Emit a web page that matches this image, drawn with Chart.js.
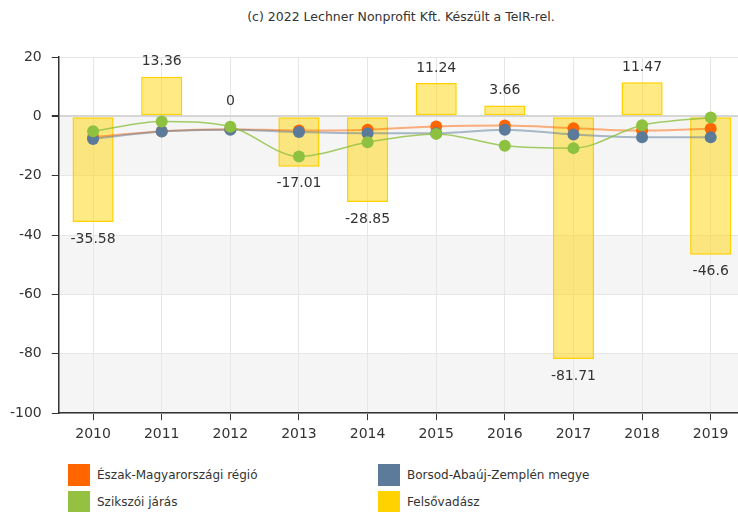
<!DOCTYPE html>
<html>
<head>
<meta charset="utf-8">
<script src="https://cdn.jsdelivr.net/npm/chart.js@4.4.1/dist/chart.umd.min.js"></script>
<style>
  html, body { margin: 0; padding: 0; background: #fff; overflow: hidden; }
  #wrap { position: relative; width: 738px; height: 512px; overflow: hidden; }
  #title { position: absolute; top: 9px; left: 0; width: 802px; text-align: center;
           font: 12.5px 'DejaVu Sans', sans-serif; color: #333; }
  #chartBox { position: absolute; top: 0; left: 0; width: 751px; height: 451px; }
  .leg { position: absolute; font: 12px 'DejaVu Sans', sans-serif; color: #333; line-height: 22px; }
  .leg span { display: inline-block; width: 22px; height: 22px; vertical-align: top; margin-right: 7px; }
</style>
</head>
<body>
<div id="wrap">
  <div id="title">(c) 2022 Lechner Nonprofit Kft. Készült a TeIR-rel.</div>
  <div id="chartBox"><canvas id="chart"></canvas></div>
  <div class="leg" style="left:68px; top:464px;"><span style="background:#ff6600"></span>Észak-Magyarországi régió</div>
  <div class="leg" style="left:378px; top:464px;"><span style="background:#5c7a99"></span>Borsod-Abaúj-Zemplén megye</div>
  <div class="leg" style="left:68px; top:491px;"><span style="background:#95c143"></span>Szikszói járás</div>
  <div class="leg" style="left:378px; top:491px;"><span style="background:#ffd200"></span>Felsővadász</div>
</div>
<script>
// adatok
const evek = ['2010', '2011', '2012', '2013', '2014', '2015', '2016', '2017', '2018', '2019'];
const felsovadasz = [-35.58, 13.36, 0, -17.01, -28.85, 11.24, 3.66, -81.71, 11.47, -46.6];
const eszakMagyarorszag = [-7, -5, -4.3, -4.8, -4.5, -3.4, -3.1, -4.0, -4.8, -4.2];
const borsod = [-7.6, -5.1, -4.5, -5.3, -5.7, -5.7, -4.5, -6.1, -7.0, -7.0];
const szikszoi = [-5.0, -1.7, -3.5, -13.5, -8.7, -5.9, -9.9, -10.7, -3.0, -0.4];

const betu = "'DejaVu Sans', sans-serif";

// szürke sávok a háttérben
const savok = {
    id: 'savok',
    beforeDraw(chart) {
        const ctx = chart.ctx;
        const y = chart.scales.y;
        const area = chart.chartArea;
        ctx.save();
        ctx.fillStyle = '#f5f5f5';
        [[0, -20], [-40, -60], [-80, -100]].forEach(s => {
            const y1 = y.getPixelForValue(s[0]);
            const y2 = y.getPixelForValue(s[1]);
            ctx.fillRect(area.left, y1, area.right - area.left, y2 - y1);
        });
        ctx.restore();
    }
};

// oszlop feliratok
const feliratok = {
    id: 'feliratok',
    afterDatasetsDraw(chart) {
        const ctx = chart.ctx;
        const meta = chart.getDatasetMeta(0);
        ctx.save();
        ctx.font = '14px ' + betu;
        ctx.fillStyle = '#333';
        ctx.textAlign = 'center';
        ctx.textBaseline = 'middle';
        meta.data.forEach((bar, i) => {
            const v = felsovadasz[i];
            const y = v < 0 ? bar.y + 17 : bar.y - 15;
            ctx.fillText(String(v), bar.x, y);
        });
        ctx.restore();
    }
};

new Chart(document.getElementById('chart'), {
    data: {
        labels: evek,
        datasets: [
            {
                type: 'bar',
                label: 'Felsővadász',
                data: felsovadasz,
                backgroundColor: 'rgba(255, 214, 10, 0.5)',
                borderColor: '#ffd200',
                borderWidth: 1.5,
                borderSkipped: false,
                categoryPercentage: 1,
                barPercentage: 0.6,
                order: 4
            },
            {
                type: 'line',
                label: 'Észak-Magyarországi régió',
                data: eszakMagyarorszag,
                borderColor: 'rgba(255, 102, 0, 0.5)',
                backgroundColor: '#ff6600',
                pointBackgroundColor: '#ff6600',
                pointBorderWidth: 0,
                pointRadius: 6,
                borderWidth: 2,
                cubicInterpolationMode: 'monotone',
                order: 3
            },
            {
                type: 'line',
                label: 'Borsod-Abaúj-Zemplén megye',
                data: borsod,
                borderColor: 'rgba(92, 122, 153, 0.5)',
                backgroundColor: '#5c7a99',
                pointBackgroundColor: '#5c7a99',
                pointBorderWidth: 0,
                pointRadius: 6,
                borderWidth: 2,
                cubicInterpolationMode: 'monotone',
                order: 2
            },
            {
                type: 'line',
                label: 'Szikszói járás',
                data: szikszoi,
                borderColor: 'rgba(141, 193, 63, 0.8)',
                backgroundColor: '#8dc13f',
                pointBackgroundColor: '#8dc13f',
                pointBorderWidth: 0,
                pointRadius: 6,
                borderWidth: 1.5,
                cubicInterpolationMode: 'monotone',
                order: 1
            }
        ]
    },
    options: {
        responsive: true,
        maintainAspectRatio: false,
        animation: false,
        layout: { padding: { top: 57, left: 0, right: 0, bottom: 2 } },
        plugins: {
            legend: { display: false },
            tooltip: { enabled: false }
        },
        scales: {
            x: {
                offset: true,
                grid: {
                    offset: false,
                    color: '#e6e6e6',
                    tickColor: '#333',
                    tickLength: 7
                },
                border: { color: '#333', width: 1.5 },
                ticks: { color: '#333', font: { family: betu, size: 14 }, padding: 6 }
            },
            y: {
                min: -100,
                max: 20,
                grid: {
                    color: ctx => ctx.tick && ctx.tick.value === 0 ? '#d6d6d6' : '#e6e6e6',
                    lineWidth: ctx => ctx.tick && ctx.tick.value === 0 ? 2 : 1,
                    tickColor: '#333',
                    tickLength: 7
                },
                border: { color: '#333', width: 1.5 },
                ticks: { stepSize: 20, color: '#333', font: { family: betu, size: 14 }, padding: 10 }
            }
        }
    },
    plugins: [savok, feliratok]
});
</script>
</body>
</html>
